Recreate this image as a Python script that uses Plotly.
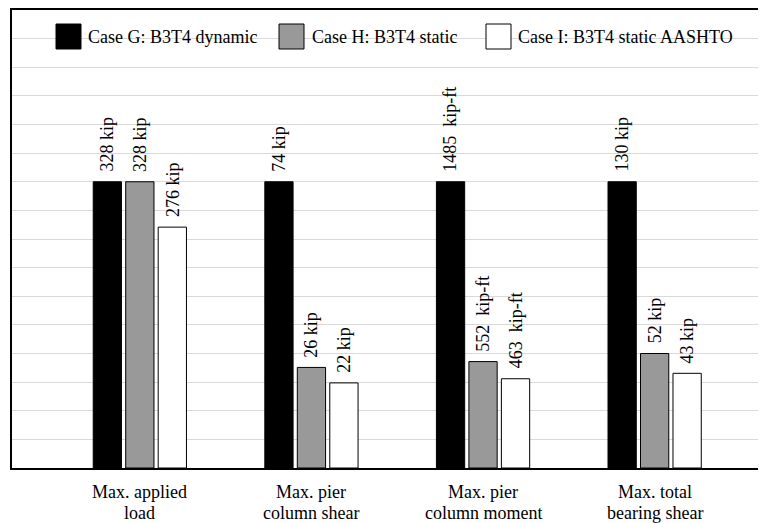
import plotly.graph_objects as go

categories_l1 = ["Max. applied", "Max. pier", "Max. pier", "Max. total"]
categories_l2 = ["load", "column shear", "column moment", "bearing shear"]
units = ["kip", "kip", "kip-ft", "kip"]
series_names = ["Case G: B3T4 dynamic", "Case H: B3T4 static", "Case I: B3T4 static AASHTO"]
case_g = [328, 74, 1485, 130]
case_h = [328, 26, 552, 52]
case_i = [276, 22, 463, 43]
colors = ["#000000", "#999999", "#ffffff"]

FONT = "Liberation Serif"
OFF = 8                      # page body margin in the browser
W, H = 766 - OFF, 523 - OFF
ML, MR, MT, MB = 12 - OFF, 0, 10 - OFF, 55
PW, PH = W - ML - MR, H - MT - MB
BARGAP = 0.432

def px_x(p):
    return (p - OFF - ML) / PW

def px_y(p):
    return (H + OFF - MB - p) / PH

def label(v, u):
    sep = "\u00a0\u00a0" if u == "kip-ft" else " "
    return f"{v}{sep}{u}"

xs = list(range(len(categories_l1)))
fig = go.Figure()
annotations = []
for k, (name, vals, col) in enumerate(zip(series_names, [case_g, case_h, case_i], colors)):
    norm = [v / g for v, g in zip(vals, case_g)]
    fig.add_trace(go.Bar(
        x=xs, y=norm, name=name,
        marker=dict(color=col, line=dict(color="#000000", width=1)),
        showlegend=False,
    ))
    off = (k - 1) * (1 - BARGAP) / 3
    for x, n, v, u in zip(xs, norm, vals, units):
        annotations.append(dict(x=x + off, y=n, xref="x", yref="y",
                                text=label(v, u), textangle=-90,
                                xanchor="center", yanchor="bottom", yshift=8,
                                showarrow=False,
                                font=dict(family=FONT, size=18, color="#000000")))

# category labels (two lines each)
for x, l1, l2 in zip(xs, categories_l1, categories_l2):
    for txt, py in ((l1, 492), (l2, 512.5)):
        annotations.append(dict(x=x, y=px_y(py), xref="x", yref="paper",
                                text=txt, xanchor="center", yanchor="middle",
                                showarrow=False, borderpad=0,
                                font=dict(family=FONT, size=18, color="#000000")))

# manual legend (white band across the gridline, swatches and labels)
shapes = [dict(type="rect", xref="paper", yref="paper",
               x0=px_x(48), x1=px_x(745), y0=px_y(56), y1=px_y(20),
               fillcolor="white", line=dict(width=0), layer="below")]
sw_left = [56, 279, 486]
txt_left = [86, 310, 516]
for name, col, sx, tx in zip(series_names, colors, sw_left, txt_left):
    shapes.append(dict(type="rect", xref="paper", yref="paper",
                       x0=px_x(sx), x1=px_x(sx + 25), y0=px_y(49), y1=px_y(24),
                       fillcolor=col, line=dict(color="#000000", width=1)))
    annotations.append(dict(xref="paper", yref="paper", x=px_x(tx), y=px_y(37),
                            xanchor="left", yanchor="middle", showarrow=False,
                            text=name, font=dict(family=FONT, size=18, color="#000000")))

fig.update_layout(
    width=W, height=H,
    margin=dict(l=ML, r=MR, t=MT, b=MB, pad=0),
    paper_bgcolor="white", plot_bgcolor="white",
    barmode="group", bargap=BARGAP, bargroupgap=0.13,
    font=dict(family=FONT, size=18, color="#000000"),
    shapes=shapes, annotations=annotations,
    xaxis=dict(tickmode="array", tickvals=xs, showticklabels=False,
               range=[-0.745, 3.649], showgrid=False, zeroline=False,
               showline=True, linecolor="#000000", linewidth=2, mirror=True,
               ticks=""),
    yaxis=dict(range=[0, 1.6], dtick=0.1, showgrid=True, gridcolor="#d9d9d9",
               gridwidth=1, showticklabels=False, zeroline=False, ticks="",
               showline=True, linecolor="#000000", linewidth=1.5),
)
fig.write_html("out.html")
